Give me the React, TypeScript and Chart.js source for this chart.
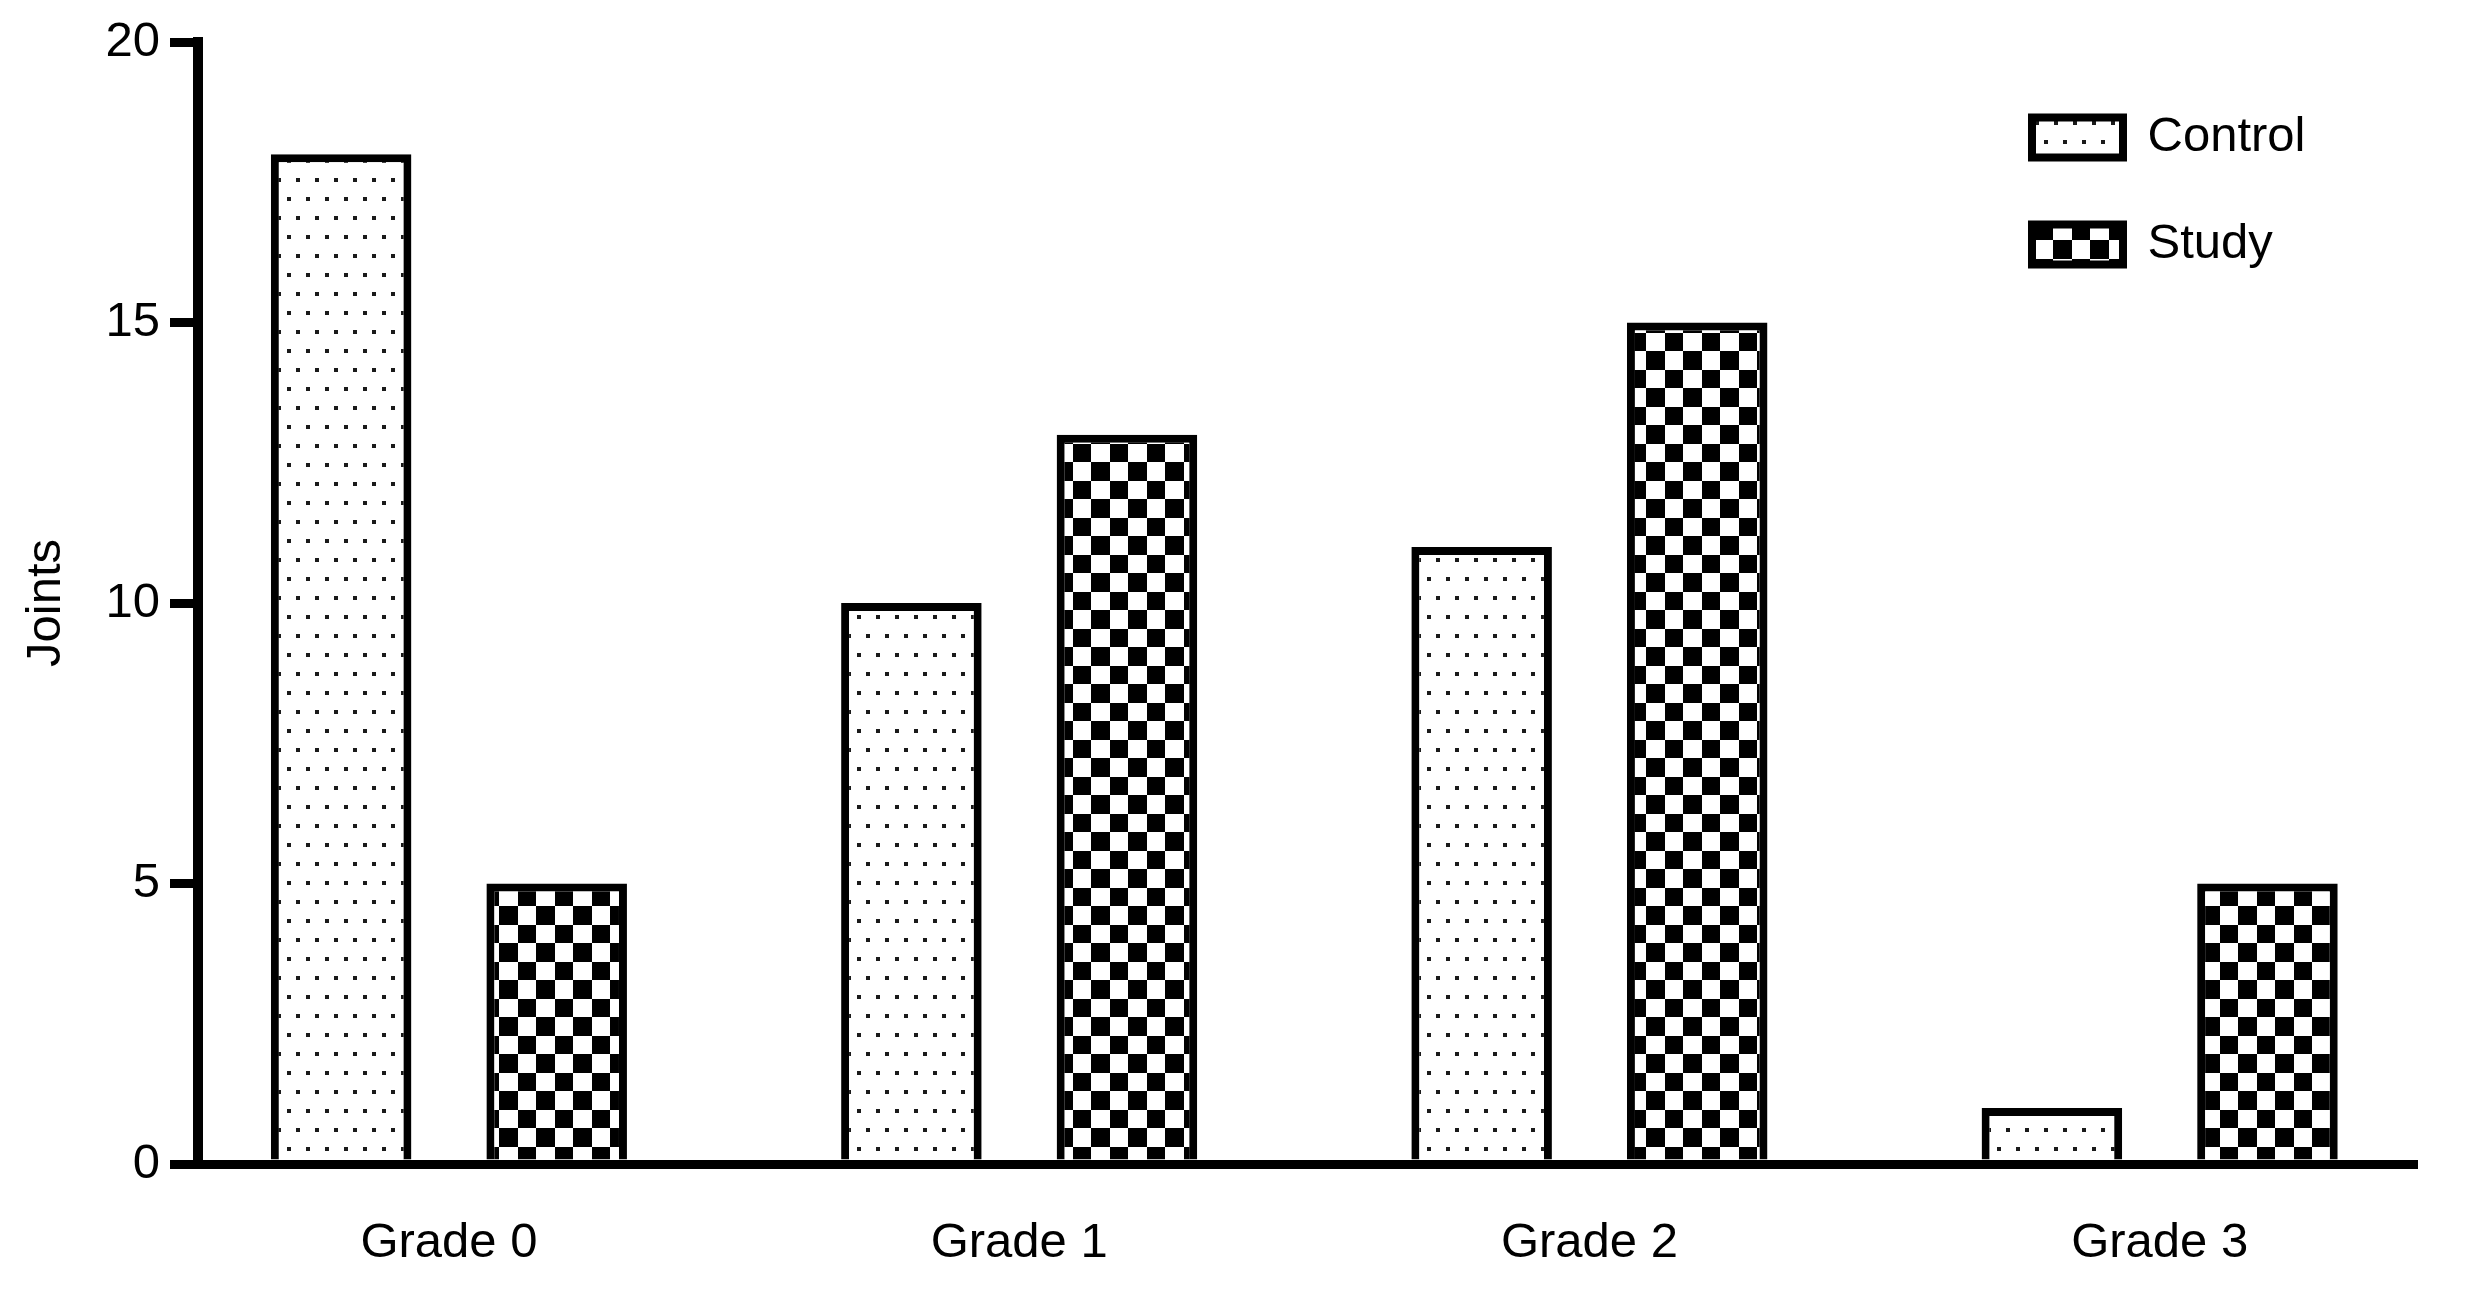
import React, { useEffect, useRef } from 'react';
import { Chart, registerables } from 'chart.js';

Chart.register(...registerables);

const CATEGORIES = ['Grade 0', 'Grade 1', 'Grade 2', 'Grade 3'];
const CONTROL = [18, 10, 11, 1];
const STUDY = [5, 13, 15, 5];
const SERIES_LABELS = ['Control', 'Study'];
const Y_TICKS = [0, 5, 10, 15, 20];
const Y_TITLE = 'Joints';

const W = 2466;
const H = 1291;
const FONT = "'Liberation Sans', Arial, Helvetica, sans-serif";

function makeDotPattern(ctx: CanvasRenderingContext2D) {
  const c = document.createElement('canvas');
  c.width = 19;
  c.height = 38;
  const g = c.getContext('2d')!;
  g.fillStyle = '#ffffff';
  g.fillRect(0, 0, 19, 38);
  g.fillStyle = '#1a1a1a';
  g.fillRect(2, 7, 4, 4);
  g.fillRect(11, 26, 4, 4);
  return ctx.createPattern(c, 'repeat')!;
}

function makeCheckerPattern(ctx: CanvasRenderingContext2D) {
  const c = document.createElement('canvas');
  c.width = 37;
  c.height = 37;
  const g = c.getContext('2d')!;
  g.fillStyle = '#ffffff';
  g.fillRect(0, 0, 37, 37);
  g.fillStyle = '#000000';
  g.fillRect(0, 0, 18, 18);
  g.fillRect(18, 18, 19, 19);
  return ctx.createPattern(c, 'repeat')!;
}

const legendPlacer = {
  id: 'legendPlacer',
  afterLayout(chart: any) {
    const lg = chart.legend;
    if (!lg) return;
    const left = 1974;
    const top = 55;
    lg.left = left;
    lg.right = left + lg.width;
    lg.top = top;
    lg.bottom = chart.chartArea.bottom;
  },
};

export default function App() {
  const ref = useRef<HTMLCanvasElement | null>(null);

  useEffect(() => {
    const canvas = ref.current!;
    const ctx = canvas.getContext('2d')!;
    const dots = makeDotPattern(ctx);
    const checker = makeCheckerPattern(ctx);

    Chart.defaults.font.family = FONT;
    Chart.defaults.color = '#000';

    const chart = new Chart(ctx, {
      type: 'bar',
      data: {
        datasets: [
          {
            label: SERIES_LABELS[0],
            data: CONTROL.map((v, i) => ({ x: i, y: v })),
            backgroundColor: dots,
            borderColor: '#000',
            borderWidth: 8,
            categoryPercentage: 0.756,
            barPercentage: 0.652,
          },
          {
            label: SERIES_LABELS[1],
            data: STUDY.map((v, i) => ({ x: i, y: v })),
            backgroundColor: checker,
            borderColor: '#000',
            borderWidth: 8,
            categoryPercentage: 0.756,
            barPercentage: 0.652,
          },
        ],
      } as any,
      options: {
        animation: false,
        responsive: false,
        devicePixelRatio: 1,
        layout: { padding: { top: 42, right: 48, left: 0, bottom: 0 } },
        plugins: {
          tooltip: { enabled: false },
          legend: {
            position: 'chartArea' as any,
            align: 'start',
            labels: {
              font: { size: 49, family: FONT },
              color: '#000',
              boxWidth: 91,
              boxHeight: 40,
              padding: 58,
            },
          },
        },
        scales: {
          x: {
            type: 'linear',
            min: -0.44,
            max: 3.453,
            offset: false,
            grid: { display: true, offset: false, drawOnChartArea: false, drawTicks: false, lineWidth: 0 },
            border: { display: true, width: 9, color: '#000' },
            ticks: {
              stepSize: 1,
              includeBounds: false,
              autoSkip: false,
              maxRotation: 0,
              padding: 50,
              font: { size: 49, family: FONT },
              color: '#000',
              callback: (v: any) => (Number.isInteger(v) && CATEGORIES[v] !== undefined ? CATEGORIES[v] : ''),
            },
            afterFit: (s: any) => {
              s.height = H - 1164;
            },
          },
          y: {
            type: 'linear',
            min: 0,
            max: 20,
            grid: { drawOnChartArea: false, drawTicks: true, tickLength: 28, lineWidth: 9, color: '#000' },
            border: { display: true, width: 10, color: '#000' },
            ticks: {
              padding: 10,
              font: { size: 49, family: FONT },
              color: '#000',
            },
            afterBuildTicks: (s: any) => {
              s.ticks = Y_TICKS.map((v) => ({ value: v }));
            },
            title: {
              display: true,
              text: Y_TITLE,
              font: { size: 49, family: FONT },
              color: '#000',
              padding: { top: 17, bottom: 0 },
            },
            afterFit: (s: any) => {
              s.width = 198;
            },
          },
        },
      } as any,
      plugins: [legendPlacer],
    });

    return () => {
      chart.destroy();
    };
  }, []);

  return (
    <div style={{ position: 'absolute', left: 0, top: 0, width: W, height: H, background: '#fff' }}>
      <canvas ref={ref} width={W} height={H} style={{ display: 'block', width: W, height: H }} />
    </div>
  );
}
